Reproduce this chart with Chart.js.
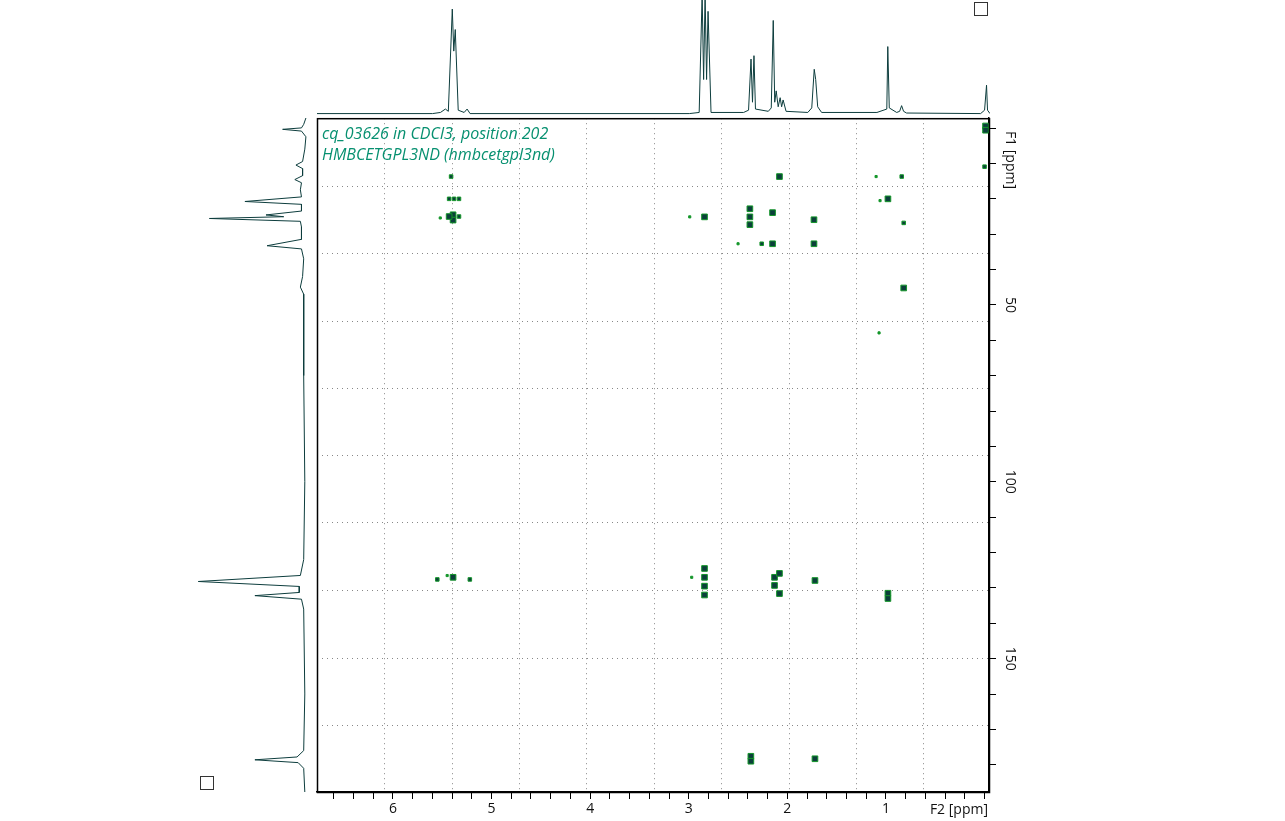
<!DOCTYPE html>
<html>
<head>
<meta charset="utf-8">
<script src="https://cdn.jsdelivr.net/npm/chart.js@4/dist/chart.umd.min.js"></script>
<style>
  body { margin: 0; background: #fff; width: 1285px; height: 821px; overflow: hidden; position: relative; font-family: "Open Sans", sans-serif; }
  .box { position: absolute; }
  .sq { position: absolute; width: 14px; height: 14px; border: 1px solid #333; box-sizing: border-box; }
</style>
</head>
<body>
<div class="box" style="left:317px;top:0px;width:673px;height:117px"><canvas id="top" width="673" height="117"></canvas></div>
<div class="box" style="left:195px;top:118px;width:122px;height:674px"><canvas id="left" width="122" height="674"></canvas></div>
<div class="box" style="left:312px;top:108px;width:719px;height:713px"><canvas id="main" width="719" height="713"></canvas></div>
<div class="sq" style="left:974px;top:2px"></div>
<div class="sq" style="left:200px;top:776px"></div>
<script>
// F2 (1H) range and F1 (13C) range, ppm
const f2Range = [-0.045, 6.77];
const f1Range = [-2.8, 187.7];

// dotted grid positions (ppm)
const gridX = [6.09, 5.40, 4.72, 4.04, 3.35, 2.67, 1.98, 1.30, 0.62];
const gridY = [16.3, 35.3, 54.5, 73.5, 92.5, 111.5, 130.5, 149.7, 168.7];
const f1Labels = [50, 100, 150];

// 1D proton projection: [ppm, intensity]
const topSpec = [
  [6.77, 0], [5.60, 0], [5.52, 0.01], [5.47, 0.04], [5.44, 0.02], [5.40, 0.92], [5.385, 0.55], [5.37, 0.74], [5.34, 0.03],
  [5.28, 0.01], [5.25, 0.04], [5.22, 0], [3.00, 0], [2.90, 0.01], [2.87, 1.05], [2.855, 0.3], [2.84, 1.05], [2.825, 0.3],
  [2.81, 0.9], [2.78, 0.01], [2.45, 0.01], [2.40, 0.03], [2.375, 0.48], [2.36, 0.1], [2.345, 0.51], [2.33, 0.04],
  [2.20, 0.02], [2.17, 0.05], [2.15, 0.82], [2.135, 0.1], [2.12, 0.2], [2.10, 0.06], [2.08, 0.14], [2.065, 0.06],
  [2.05, 0.12], [2.02, 0.02], [1.80, 0.01], [1.76, 0.05], [1.735, 0.39], [1.72, 0.3], [1.70, 0.06], [1.66, 0.01],
  [1.10, 0.01], [1.00, 0.04], [0.99, 0.59], [0.975, 0.05], [0.90, 0.01], [0.87, 0.02], [0.85, 0.07], [0.83, 0.02],
  [0.80, 0.005], [0.05, 0], [0.01, 0.03], [-0.01, 0.25], [-0.02, 0.03], [-0.045, 0]
];

// 1D carbon projection: [ppm, intensity]
const leftSpec = [
  [-2.8, 0], [-1.0, 0.02], [0.0, 0.04], [0.4, 0.21], [0.9, 0.04], [2.5, 0.0], [6.0, 0.01], [9.5, 0.03], [10.5, 0.09],
  [11.5, 0.03], [13.5, 0.03], [14.6, 0.10], [15.5, 0.04], [17.5, 0.05], [19.5, 0.04], [20.8, 0.55], [21.6, 0.04],
  [23.5, 0.04], [24.6, 0.36], [25.1, 0.2], [25.6, 0.87], [26.4, 0.05], [28, 0.04], [31.5, 0.04], [33.3, 0.35],
  [34.2, 0.04], [37, 0.02], [42, 0.03], [45, 0.05], [47, 0.02], [52, 0.02], [70, 0.02], [100, 0.01], [122, 0.02],
  [126.5, 0.05], [128.2, 0.97], [129.6, 0.06], [131.3, 0.06], [132.2, 0.46], [133.2, 0.04], [136, 0.02], [160, 0.01],
  [176, 0.02], [177.8, 0.08], [178.6, 0.46], [179.4, 0.07], [181, 0.02], [187.7, 0.01]
];

// HMBC cross peaks: [F2 ppm, F1 ppm]
const strongPeaks = [
  [5.39, 24.5], [5.39, 26.0], [5.43, 25.0], [2.84, 25.1], [2.38, 22.8], [2.38, 25.1], [2.38, 27.3], [2.15, 23.9],
  [1.73, 25.9], [0.82, 45.2], [0.98, 20.0], [2.08, 13.7], [1.73, 32.7], [2.15, 32.7],
  [2.84, 124.5], [2.84, 127.0], [2.84, 129.5], [2.84, 132.0], [2.13, 127.0], [2.13, 129.3], [2.08, 125.9],
  [2.08, 131.6], [1.72, 127.9], [0.98, 131.5], [0.98, 133.0], [2.37, 177.6], [2.37, 179.0], [1.72, 178.3],
  [5.39, 127.0], [-0.01, -0.6], [-0.01, 0.6]
];
const mediumPeaks = [
  [5.38, 20.0], [5.43, 20.0], [5.33, 20.0], [5.33, 25.0], [5.55, 127.6], [5.22, 127.6], [0.82, 26.8],
  [2.26, 32.7], [0.84, 13.7], [5.41, 13.7], [0.0, 10.9]
];
const weakPeaks = [
  [5.52, 25.4], [2.99, 25.1], [1.10, 13.7], [1.06, 20.5], [2.50, 32.7], [1.07, 57.9], [2.97, 127.0], [5.45, 126.5]
];

const dark = '#0b3f3a';
const green = '#14962a';
const specColor = '#0d3d3d';

const rangeX = { type: 'linear', reverse: true, min: f2Range[1], max: f2Range[0], display: false };
const rangeY = { type: 'linear', reverse: true, min: f1Range[0], max: f1Range[1], display: false };

new Chart(document.getElementById('top'), {
  type: 'scatter',
  data: { datasets: [{ data: topSpec.map(p => ({ x: p[0], y: p[1] })), showLine: true, borderColor: specColor, borderWidth: 1, pointRadius: 0 }] },
  options: {
    responsive: false, animation: false, clip: false,
    plugins: { legend: { display: false }, tooltip: { enabled: false } },
    layout: { padding: 0 },
    scales: { x: rangeX, y: { type: 'linear', min: -0.03, max: 1.0, display: false } }
  }
});

new Chart(document.getElementById('left'), {
  type: 'scatter',
  data: { datasets: [{ data: leftSpec.map(p => ({ x: p[1], y: p[0] })), showLine: true, borderColor: specColor, borderWidth: 1, pointRadius: 0 }] },
  options: {
    responsive: false, animation: false,
    plugins: { legend: { display: false }, tooltip: { enabled: false } },
    layout: { padding: 0 },
    scales: { x: { type: 'linear', reverse: true, min: -0.1, max: 1.0, display: false }, y: rangeY }
  }
});

const decor = {
  id: 'decor',
  beforeDatasetsDraw(chart) {
    const { ctx, chartArea: a, scales: { x, y } } = chart;
    ctx.save();
    ctx.strokeStyle = '#888';
    ctx.lineWidth = 1;
    ctx.setLineDash([1, 4]);
    gridX.forEach(v => { const px = Math.round(x.getPixelForValue(v)) + 0.5; ctx.beginPath(); ctx.moveTo(px, a.top); ctx.lineTo(px, a.bottom); ctx.stroke(); });
    gridY.forEach(v => { const py = Math.round(y.getPixelForValue(v)) + 0.5; ctx.beginPath(); ctx.moveTo(a.left, py); ctx.lineTo(a.right, py); ctx.stroke(); });
    ctx.setLineDash([]);
    ctx.fillStyle = '#079070';
    ctx.font = 'italic 16px "Open Sans"';
    ctx.textBaseline = 'alphabetic';
    ctx.fillText('cq_03626 in CDCl3, position 202', a.left + 5, a.top + 21);
    ctx.fillText('HMBCETGPL3ND (hmbcetgpl3nd)', a.left + 5, a.top + 42);
    ctx.restore();
  },
  afterDraw(chart) {
    const { ctx, chartArea: a, scales: { y } } = chart;
    ctx.save();
    ctx.strokeStyle = '#000';
    ctx.lineWidth = 1.5;
    ctx.strokeRect(a.left + 0.5, a.top + 0.5, a.right - a.left, a.bottom - a.top);
    ctx.fillStyle = '#111';
    ctx.font = '14px "Open Sans"';
    ctx.textAlign = 'center';
    ctx.textBaseline = 'middle';
    f1Labels.forEach(v => {
      ctx.save();
      ctx.translate(a.right + 21, y.getPixelForValue(v));
      ctx.rotate(Math.PI / 2);
      ctx.fillText(String(v), 0, 0);
      ctx.restore();
    });
    ctx.save();
    ctx.translate(a.right + 21, y.getPixelForValue(9));
    ctx.rotate(Math.PI / 2);
    ctx.fillText('F1 [ppm]', 0, 0);
    ctx.restore();
    ctx.textAlign = 'right';
    ctx.fillText('F2 [ppm]', a.right - 1, a.bottom + 18);
    ctx.restore();
  }
};

function peakSet(pts, r, fill, border) {
  return { data: pts.map(p => ({ x: p[0], y: p[1] })), pointStyle: 'rect', pointRadius: r, backgroundColor: fill, borderColor: border, borderWidth: 1 };
}

new Chart(document.getElementById('main'), {
  type: 'scatter',
  data: {
    datasets: [
      peakSet(strongPeaks, 4, dark, green),
      peakSet(mediumPeaks, 2.5, dark, green),
      peakSet(weakPeaks, 1.5, green, green)
    ]
  },
  options: {
    responsive: false, animation: false,
    plugins: { legend: { display: false }, tooltip: { enabled: false } },
    layout: { padding: 0 },
    scales: {
      x: {
        type: 'linear', reverse: true, min: f2Range[0], max: f2Range[1], position: 'bottom',
        afterFit: s => { s.height = 29; },
        afterBuildTicks: s => { const t = []; for (let i = 0; i <= 33; i++) t.push({ value: i / 5 }); s.ticks = t; },
        grid: { drawOnChartArea: false, tickLength: 7, color: '#000' },
        border: { color: '#000', width: 1.5 },
        ticks: { color: '#111', font: { size: 14, family: 'Open Sans' }, padding: 2, maxRotation: 0, autoSkip: false,
          callback: v => (Math.abs(v - Math.round(v)) < 1e-6 && v > 0.5) ? String(Math.round(v)) : '' }
      },
      y: {
        type: 'linear', reverse: true, min: f1Range[0], max: f1Range[1], position: 'right',
        afterFit: s => { s.width = 42; },
        afterBuildTicks: s => { const t = []; for (let i = 0; i <= 18; i++) t.push({ value: i * 10 }); s.ticks = t; },
        grid: { drawOnChartArea: false, tickLength: 7, color: '#000' },
        border: { color: '#000', width: 1.5 },
        ticks: { display: true, color: 'rgba(0,0,0,0)', autoSkip: false, callback: () => '' }
      }
    }
  },
  plugins: [decor]
});
</script>
</body>
</html>
